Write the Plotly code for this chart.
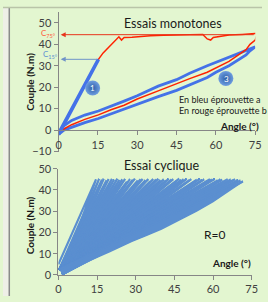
import plotly.graph_objects as go

W, H = 268, 302
FONT = "Lato"

# ---------------- data: monotonic tests ----------------
blue_load_angle = [0, 15.2, 0.3]
blue_load_couple = [-2, 33, -1]

blue_loop_angle = [0, 2, 5, 10, 15.2, 20, 25, 30, 38, 45, 50, 56.7, 62, 68, 72, 75,
                   73, 71.5, 65, 60, 56.7, 50, 45, 38, 30, 25, 20, 15.2, 10, 5, 2, 0]
blue_loop_couple = [-1, 2, 4.5, 7, 8.9, 11, 13.5, 16, 20.5, 23.5, 26.5, 30, 32.5, 35.5, 37.5, 38.8,
                    37, 35, 30, 27, 24.5, 21, 18.5, 15.6, 12, 9.5, 7.5, 5.4, 3.5, 1.5, 0, -2]

red_angle = [0, 15.2, 17, 20, 22, 23, 24, 25, 28, 30, 35, 40, 45, 50, 55, 56.7, 58, 59, 62, 65, 70, 75, 76,
             75, 73, 71.5, 65, 60, 56.7, 50, 45, 38, 30, 25, 20, 15.2, 10, 5, 2, 0]
red_couple = [-2, 33, 36, 40, 42.5, 43.5, 42, 43.2, 43.3, 43.6, 44.0, 44.2, 44.4, 44.4, 44.6, 42.5, 42, 43.2, 43.8, 44.3, 44.6, 45, 45.5,
              42, 40, 37.5, 32, 29, 27, 24, 21.5, 18.3, 14.5, 11.6, 9.5, 7.1, 5, 2.5, 0.5, -1.5]

# ---------------- data: cyclic test ----------------
cyc_peak_angle = [14.6, 15.8, 16.9, 17.6, 18.7, 19.5, 20.8, 21.6, 22.9, 23.7, 24.8, 25.9, 26.6, 27.8, 28.9,
                  29.7, 30.8, 31.9, 32.7, 33.8, 34.9, 35.6, 36.8, 37.9, 38.8, 39.6, 40.9, 41.7, 42.8, 43.9,
                  44.6, 45.8, 46.9, 47.7, 48.6, 49.8, 50.9, 51.6, 52.8, 53.7, 54.9, 55.8, 56.6, 57.9, 58.8,
                  59.6, 60.7, 61.8, 62.9, 63.6, 64.8, 65.7, 66.9, 67.8, 68.6, 69.8, 70.7, 71.6]
cyc_peak_couple = [45.0, 45.2, 44.8, 45.3, 44.6, 45.1, 45.2, 44.9, 45.3, 44.7, 45.0, 45.2, 43.9, 45.1, 44.8,
                   45.3, 44.5, 45.0, 45.2, 44.6, 45.1, 44.0, 45.2, 44.9, 45.3, 44.7, 45.0, 44.4, 45.2, 44.9,
                   45.1, 44.2, 45.3, 44.8, 45.0, 45.2, 44.6, 45.1, 43.8, 44.9, 45.2, 44.7, 45.0, 44.3, 45.1,
                   44.9, 45.2, 44.5, 45.0, 44.8, 44.1, 45.1, 44.9, 44.6, 45.0, 44.7, 44.5, 44.0]
cyc_first_start = (0.0, 5.0)
cyc_load_start = (0.3, 2.5)
cyc_unload_end = (1.5, 0.3)

env_angle = [71.6, 66, 60, 53.6, 47, 40, 34, 28.5, 20, 11, 5, 1.5]
env_couple = [44, 39.5, 34.5, 30, 25.8, 21.6, 18.5, 15.8, 11, 6, 3, 0.5]

# ---------------- figure ----------------
BLUE = "#4472e8"
RED = "#ff2200"
CYC = "#5b8fd0"
fig = go.Figure()

fig.add_trace(go.Scatter(x=blue_loop_angle, y=blue_loop_couple, mode="lines",
                         line=dict(color=BLUE, width=2.8), xaxis="x", yaxis="y", hoverinfo="skip"))
fig.add_trace(go.Scatter(x=red_angle, y=red_couple, mode="lines",
                         line=dict(color=RED, width=1.5), xaxis="x", yaxis="y", hoverinfo="skip"))
fig.add_trace(go.Scatter(x=blue_load_angle, y=blue_load_couple, mode="lines",
                         line=dict(color=BLUE, width=3.5), xaxis="x", yaxis="y", hoverinfo="skip"))

# cyclic fan
cx, cy = [], []
for i, (a, c) in enumerate(zip(cyc_peak_angle, cyc_peak_couple)):
    s = cyc_first_start if i == 0 else cyc_load_start
    cx += [s[0], a, cyc_unload_end[0], None]
    cy += [s[1], c, cyc_unload_end[1], None]
fig.add_trace(go.Scatter(x=cx, y=cy, mode="lines", line=dict(color=CYC, width=2.2),
                         xaxis="x2", yaxis="y2", hoverinfo="skip", connectgaps=False))
fig.add_trace(go.Scatter(x=[cyc_load_start[0], cyc_peak_angle[-1]] + env_angle,
                         y=[cyc_load_start[1], cyc_peak_couple[-1]] + env_couple,
                         mode="lines", fill="toself", fillcolor=CYC,
                         line=dict(color=CYC, width=1.5), xaxis="x2", yaxis="y2", hoverinfo="skip"))

# numbered circles
fig.add_trace(go.Scatter(x=[13.0, 63.8], y=[19.6, 24.1], mode="markers",
                         marker=dict(size=15, color="#6f9ee0",
                                     gradient=dict(type="radial", color="#2f5fa8"),
                                     line=dict(width=0)),
                         xaxis="x", yaxis="y", hoverinfo="skip"))

ax_common = dict(showgrid=False, zeroline=False, showline=True, linecolor="#868686", linewidth=1,
                 ticks="outside", ticklen=4, tickcolor="#868686",
                 tickfont=dict(family=FONT, size=11, color="#404040"), fixedrange=True)

fig.update_layout(
    width=W, height=H, margin=dict(l=0, r=0, t=0, b=0),
    paper_bgcolor="#e3f6d0", plot_bgcolor="rgba(0,0,0,0)", showlegend=False,
    xaxis=dict(domain=[57.5 / W, 261 / W], range=[0, 75], tickvals=[0, 15, 30, 45, 60, 75],
               anchor="free", position=1 - 129 / H, **ax_common),
    yaxis=dict(domain=[1 - 151 / H, 1 - 5.4 / H], range=[-10, 55], tickvals=[-10, 0, 10, 20, 30, 40, 50],
               anchor="x", **ax_common),
    xaxis2=dict(domain=[57.3 / W, 257.3 / W], range=[0, 75], tickvals=[0, 15, 30, 45, 60, 75],
                anchor="y2", **ax_common),
    yaxis2=dict(domain=[1 - 280 / H, 1 - 169 / H], range=[0, 50], tickvals=[0, 10, 20, 30, 40, 50],
                anchor="x2", **ax_common),
)

def px(x, y):
    return x / W, 1 - y / H

annots = []
def txt(text, x, y, size, color="#1a1a1a", bold=False, angle=0, xanchor="center"):
    xx, yy = px(x, y)
    t = f"<b>{text}</b>" if bold else text
    annots.append(dict(text=t, x=xx, y=yy, xref="paper", yref="paper", showarrow=False,
                       xanchor=xanchor, yanchor="middle", textangle=angle,
                       font=dict(family=FONT, size=size, color=color)))

txt("Essais monotones", 176, 17, 12.5)
txt("Essai cyclique", 164, 166, 12.5)
txt("Couple (N.m)", 28, 78, 10, bold=True, angle=-90)
txt("Couple (N.m)", 28, 228, 10, bold=True, angle=-90)
txt("Angle (°)", 245, 124, 10, bold=True)
txt("Angle (°)", 236, 268, 10, bold=True)
txt("R=0", 219, 238, 12)
txt("En bleu éprouvette a", 180, 97, 9, xanchor="left")
txt("En rouge éprouvette b", 180, 108, 9, xanchor="left")
txt("C<sub>75°</sub>", 47, 27.5, 8, color="#ff5a3a")
txt("C<sub>15°</sub>", 49, 49.5, 8, color="#5b8fd0")
txt("1", 93, 85, 8, color="white")
txt("3", 231, 75, 8, color="white")

# arrows
annots.append(dict(x=0.8, y=44.5, ax=75, ay=44.5, xref="x", yref="y", axref="x", ayref="y",
                   text="", showarrow=True, arrowhead=2, arrowsize=1, arrowwidth=1, arrowcolor="#e8341c"))
annots.append(dict(x=0.8, y=33, ax=15.2, ay=33, xref="x", yref="y", axref="x", ayref="y",
                   text="", showarrow=True, arrowhead=2, arrowsize=1, arrowwidth=1, arrowcolor="#6f93c8"))
fig.update_layout(annotations=annots)

# frame decorations
fig.update_layout(shapes=[
    dict(type="rect", xref="paper", yref="paper", x0=0, x1=6 / W, y0=0, y1=1,
         fillcolor="#eeefe7", line=dict(width=0), layer="below"),
    dict(type="line", xref="paper", yref="paper", x0=6.5 / W, x1=6.5 / W, y0=0, y1=1,
         line=dict(color="#8a8a8a", width=1.5)),
    dict(type="line", xref="paper", yref="paper", x0=0, x1=1, y0=1 - 0.5 / H, y1=1 - 0.5 / H,
         line=dict(color="#b9c4a8", width=1.5)),
])

fig.write_html("out.html", config={"displayModeBar": False},
               post_script="document.body.style.margin='0px';document.body.style.overflow='hidden';")
